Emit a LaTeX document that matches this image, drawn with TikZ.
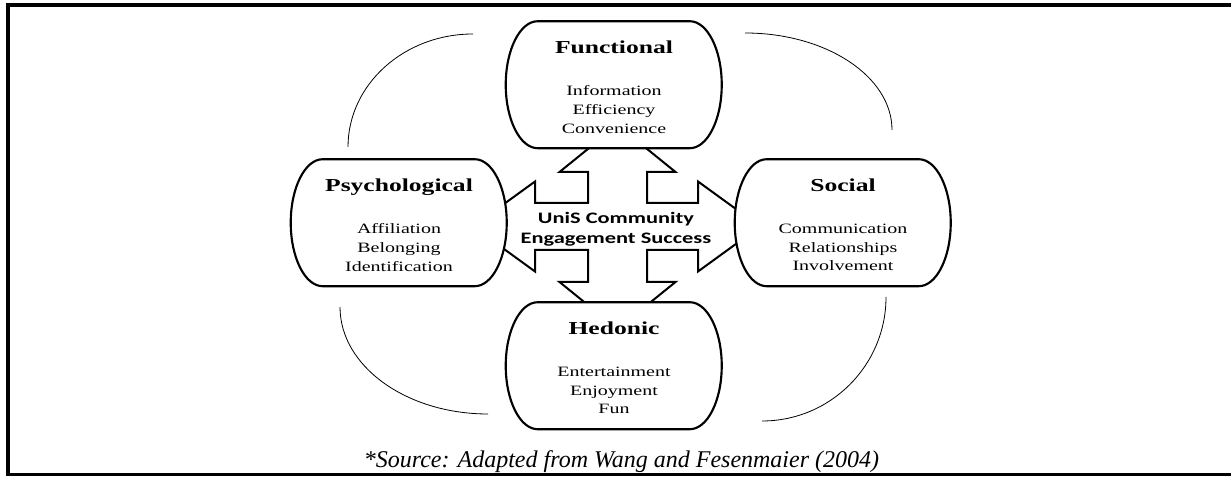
\documentclass[tikz,border=0pt]{standalone}
\usepackage{fontspec}
\setmainfont{Liberation Serif}
\newfontfamily\boxfont{Liberation Serif}[FakeStretch=1.4]
\newfontfamily\hubfont{Carlito}[FakeStretch=1.4]
\pgfdeclarelayer{back}
\pgfsetlayers{back,main}

\begin{document}
\begin{tikzpicture}[x=0.75pt, y=0.75pt,
  valbox/.style={minimum width=162pt, minimum height=95.25pt, inner sep=0pt},
  head/.style={anchor=base, font=\boxfont\bfseries\fontsize{13.7}{16}\selectfont},
  items/.style={align=center, inner sep=0pt, font=\boxfont\fontsize{10.7}{14}\selectfont},
  hub/.style={align=center, inner sep=0pt, font=\hubfont\bfseries\fontsize{12}{15}\selectfont},
  source/.style={anchor=base, inner sep=0pt, font=\itshape\fontsize{18}{21}\selectfont},
  capsule/.style={draw, line width=1.6pt, fill=white},
  cross/.style={draw, line width=1.5pt, fill=white, line join=miter},
  loopline/.style={line width=0.6pt},
  frame/.style={line width=2.3pt}]
  \useasboundingbox (0,0) rectangle (1231,477);

  % outer frame (open on the right)
  \draw[frame] (1231,472) -| (8,2.5) -- (1231,2.5);

  \node[valbox] (fun) at (614,392) {};
  \node[valbox] (psy) at (399,254) {};
  \node[valbox] (soc) at (843,254) {};
  \node[valbox] (hed) at (614,111) {};

  \node[head] (funhead) at (614,423.5) {Functional};
  \node[head] (psyhead) at (399,285.5) {Psychological};
  \node[head] (sochead) at (843,285.5) {Social};
  \node[head] (hedhead) at (614,142.5) {Hedonic};

  \node[items] (funlist) at (614,367.5) {Information\\Efficiency\\Convenience};
  \node[items] (psylist) at (399,229.5) {Affiliation\\Belonging\\Identification};
  \node[items] (soclist) at (843,229.5) {Communication\\Relationships\\Involvement};
  \node[items] (hedlist) at (614,86.5) {Entertainment\\Enjoyment\\Fun};

  \node[hub] (hub) at (616,248) {UniS Community\\Engagement Success};

  \node[source] (src) at (621.5,9) {*Source: Adapted from Wang and Fesenmaier (2004)};

  \begin{pgfonlayer}{back}
    % four-way arrow behind the boxes
    \draw[cross] (617.5,352) -- (675.5,305) -- (647,305) -- (647,274) -- (698,274)
      -- (698,295.5) -- (760,250.5) -- (698,205.5) -- (698,227) -- (647,227)
      -- (647,195) -- (675.5,195) -- (617.5,148) -- (559.5,195) -- (588,195)
      -- (588,227) -- (535,227) -- (535,205.5) -- (473,250.5) -- (535,295.5)
      -- (535,274) -- (588,274) -- (588,305) -- (559.5,305) -- cycle;
    \foreach \n in {fun,psy,soc,hed}
      \draw[capsule] (\n.north west) ++(32,0) -- ++(152,0)
        arc[start angle=90, end angle=-90, x radius=32, y radius=63.5]
        -- ++(-152,0)
        arc[start angle=270, end angle=90, x radius=32, y radius=63.5] -- cycle;
  \end{pgfonlayer}

  % thin loops between the boxes
  \draw[loopline] (473,443) arc[start angle=90, end angle=180, x radius=125, y radius=113];
  \draw[loopline] (745,444) arc[start angle=90, end angle=0, x radius=147, y radius=97];
  \draw[loopline] (340,170) arc[start angle=180, end angle=270, x radius=148, y radius=107];
  \draw[loopline] (886,180) arc[start angle=0, end angle=-90, x radius=124, y radius=124];
\end{tikzpicture}
\end{document}
